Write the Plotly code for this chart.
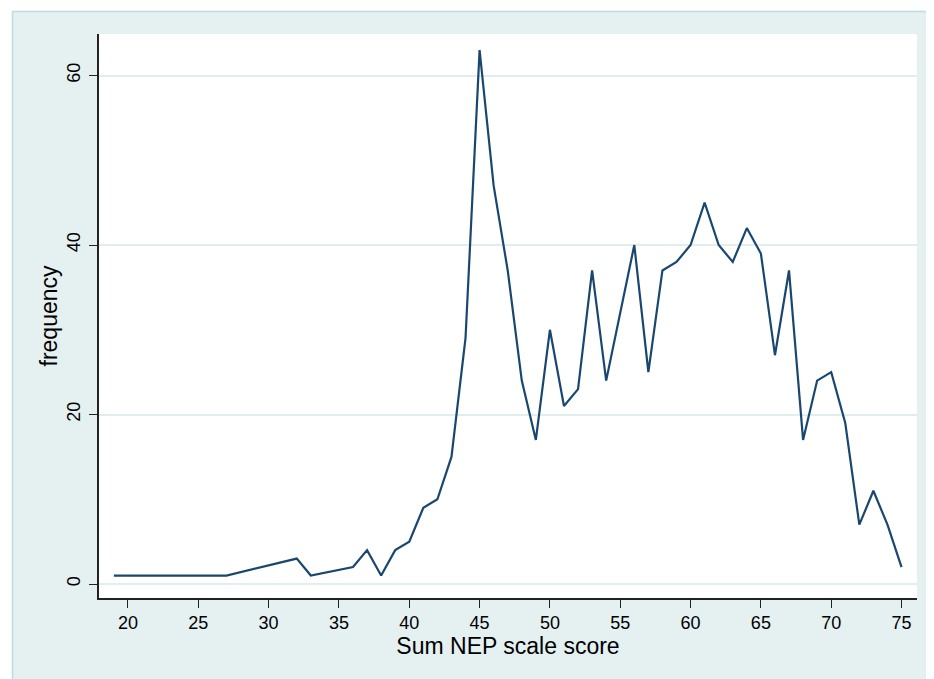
import plotly.graph_objects as go

score = [19, 27, 32, 33, 36, 37, 38, 39, 40, 41, 42, 43, 44, 45, 46, 47, 48, 49, 50,
         51, 52, 53, 54, 55, 56, 57, 58, 59, 60, 61, 62, 63, 64, 65, 66, 67, 68, 69,
         70, 71, 72, 73, 74, 75]
frequency = [1, 1, 3, 1, 2, 4, 1, 4, 5, 9, 10, 15, 29, 63, 47, 37, 24, 17, 30,
             21, 23, 37, 24, 32, 40, 25, 37, 38, 40, 45, 40, 38, 42, 39, 27, 37, 17, 24,
             25, 19, 7, 11, 7, 2]
x_ticks = [20, 25, 30, 35, 40, 45, 50, 55, 60, 65, 70, 75]
y_ticks = [0, 20, 40, 60]

# page has an 8px body margin; figure sized to fill the rest of the window
OFF = 8
W, H = 934 - OFF, 679 - OFF
L, R, T, B = 99 - OFF, 17, 34 - OFF, 81
pw, ph = W - L - R, H - T - B

def px(p):
    # page pixel -> paper x
    return (p - OFF - L) / pw

def py(p):
    # page pixel -> paper y
    return (OFF + H - B - p) / ph

fig = go.Figure()
fig.add_trace(go.Scatter(x=score, y=frequency, mode="lines",
                         line=dict(color="#1A476F", width=2.2), showlegend=False))

fig.add_shape(type="rect", xref="paper", yref="paper",
              x0=px(12.5), x1=px(960), y0=py(720), y1=py(11.5),
              fillcolor="#E5F0F1", line=dict(color="#BCDCE4", width=1.5),
              layer="below")
fig.add_shape(type="rect", xref="paper", yref="paper",
              x0=0, x1=1, y0=0, y1=1,
              fillcolor="white", line=dict(width=0),
              layer="below")

fig.update_layout(
    width=W, height=H,
    margin=dict(l=L, r=R, t=T, b=B),
    paper_bgcolor="white",
    plot_bgcolor="white",
    font=dict(family="Liberation Sans, Arial, sans-serif", color="black"),
    xaxis=dict(range=[17.94, 76.1], tickvals=x_ticks, showgrid=False,
               zeroline=False, showline=True, linecolor="#222", linewidth=1.5,
               ticks="outside", ticklen=8, tickcolor="#222", tickwidth=1.2,
               tickfont=dict(size=18),
               title=dict(text="Sum NEP scale score", font=dict(size=23), standoff=4)),
    yaxis=dict(range=[-1.65, 64.9], tickvals=y_ticks, showgrid=True,
               gridcolor="#E1EEF0", gridwidth=1.5,
               zeroline=False, showline=True, linecolor="#222", linewidth=1.5,
               ticks="outside", ticklen=8, tickcolor="#222", tickwidth=1.2,
               tickangle=-90, tickfont=dict(size=18), ticklabelstandoff=2,
               title=dict(text="frequency", font=dict(size=23), standoff=0)),
)

fig.write_html("out.html")
